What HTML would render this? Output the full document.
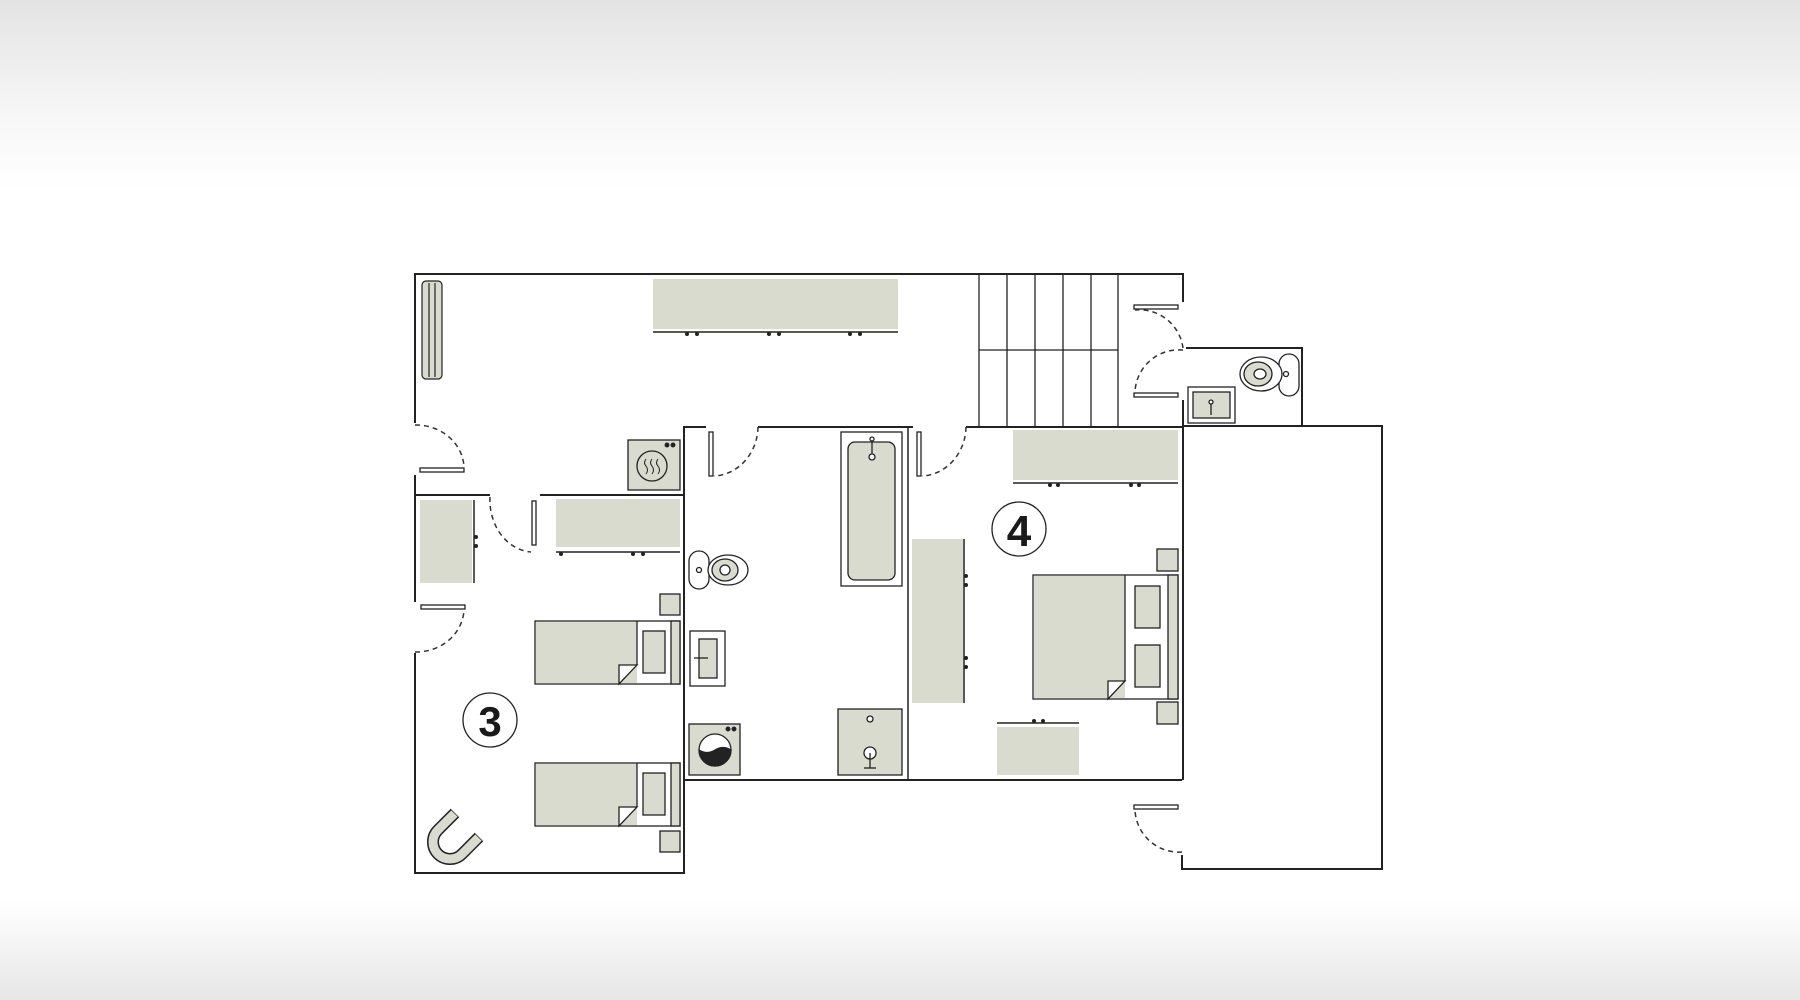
<!DOCTYPE html>
<html><head><meta charset="utf-8"><style>
html,body{margin:0;padding:0;width:1800px;height:1000px;overflow:hidden;background:#fff}
.bg{position:absolute;left:0;top:0;width:1800px;height:1000px;background:linear-gradient(to bottom,#e3e3e3 0px,#f6f6f6 110px,#fff 190px,#fff 900px,#f3f3f3 950px,#e6e6e6 1000px)}
svg{position:absolute;left:0;top:0}
text{font-family:"Liberation Sans",sans-serif;font-weight:bold}
</style></head><body><div class="bg"></div>
<svg width="1800" height="1000" viewBox="0 0 1800 1000">
<g fill="none" stroke="#222" stroke-width="2">
<polyline points="415,423 415,274 1183,274 1183,302"/>
<polyline points="415,475 415,602"/>
<polyline points="415,653 415,873 684,873 684,427 706,427"/>
<line x1="758" y1="427" x2="913" y2="427"/>
<line x1="966" y1="427" x2="1183" y2="427"/>
<polyline points="415,495 490,495"/>
<polyline points="540,495 684,495"/>
<line x1="684" y1="780" x2="1182" y2="780"/>
<line x1="908" y1="427" x2="908" y2="780" stroke-width="1.5"/>
<polyline points="1183,400 1183,780"/>
<polyline points="1186,348 1302,348 1302,426"/>
<polyline points="1183,426 1382,426 1382,869 1182,869 1182,855"/>
<g stroke-width="1.3">
<line x1="979" y1="274" x2="979" y2="426"/><line x1="1007" y1="274" x2="1007" y2="426"/>
<line x1="1035" y1="274" x2="1035" y2="426"/><line x1="1063" y1="274" x2="1063" y2="426"/>
<line x1="1091" y1="274" x2="1091" y2="426"/><line x1="1118" y1="274" x2="1118" y2="426"/>
<line x1="979" y1="350" x2="1118" y2="350"/>
</g>
</g>
<g fill="#fff" stroke="#222" stroke-width="1.3">
<rect x="420" y="468" width="44" height="4"/>
<rect x="421" y="605" width="44" height="4"/>
<rect x="532" y="501" width="4" height="44"/>
<rect x="709" y="432" width="4" height="44"/>
<rect x="917" y="432" width="4" height="44"/>
<rect x="1134" y="305" width="44" height="4"/>
<rect x="1134" y="393" width="44" height="4"/>
<rect x="1134" y="805" width="44" height="4"/>
</g>
<g fill="none" stroke="#333" stroke-width="1.5" stroke-dasharray="5,4">
<path d="M415,425 A48,44 0 0 1 464,467"/>
<path d="M415,652 A48,44 0 0 0 464,610"/>
<path d="M490,497 A44,52 0 0 0 531,552"/>
<path d="M758,427 A46,50 0 0 1 714,476"/>
<path d="M966,427 A46,50 0 0 1 922,476"/>
<path d="M1183,348 A44,44 0 0 0 1135,310"/>
<path d="M1183,350 A44,44 0 0 0 1135,392"/>
<path d="M1182,852 A44,44 0 0 1 1135,810"/>
</g>
<g fill="#d9dbcf" stroke="none">
<rect x="653" y="279" width="245" height="50"/>
<rect x="420" y="500" width="52" height="83"/>
<rect x="556" y="499" width="124" height="48"/>
<rect x="1013" y="430" width="165" height="50"/>
<rect x="912" y="539" width="51" height="164"/>
<rect x="997" y="727" width="82" height="48"/>
</g>
<g stroke="#222" stroke-width="1.5">
<line x1="653" y1="332" x2="898" y2="332"/>
<line x1="556" y1="552" x2="680" y2="552"/>
<line x1="474" y1="500" x2="474" y2="583"/>
<line x1="1013" y1="483" x2="1178" y2="483"/>
<line x1="964" y1="539" x2="964" y2="703"/>
<line x1="997" y1="723" x2="1079" y2="723"/>
</g>
<g fill="#222">
<circle cx="687" cy="334" r="2"/><circle cx="697" cy="334" r="2"/><circle cx="769" cy="334" r="2"/><circle cx="779" cy="334" r="2"/><circle cx="850" cy="334" r="2"/><circle cx="860" cy="334" r="2"/>
<circle cx="561" cy="554" r="2"/><circle cx="633" cy="554" r="2"/><circle cx="643" cy="554" r="2"/>
<circle cx="476" cy="537" r="2"/><circle cx="476" cy="546" r="2"/>
<circle cx="1050" cy="485" r="2"/><circle cx="1058" cy="485" r="2"/><circle cx="1131" cy="485" r="2"/><circle cx="1139" cy="485" r="2"/>
<circle cx="966" cy="576" r="2"/><circle cx="966" cy="585" r="2"/><circle cx="966" cy="658" r="2"/><circle cx="966" cy="667" r="2"/>
<circle cx="1034" cy="721" r="2"/><circle cx="1043" cy="721" r="2"/>
</g>
<g fill="#d9dbcf" stroke="#222" stroke-width="1.2">
<rect x="422" y="281" width="20" height="98" rx="4"/>
<line x1="429" y1="283" x2="429" y2="377"/><line x1="435" y1="283" x2="435" y2="377"/>
</g>
<g stroke="#222" stroke-width="1.3">
<rect x="628" y="440" width="52" height="50" fill="#d9dbcf"/>
<circle cx="652" cy="466" r="15" fill="none"/>
<path d="M646,459 q-3,4 0,7 q3,4 0,8 M652,459 q-3,4 0,7 q3,4 0,8 M658,459 q-3,4 0,7 q3,4 0,8" fill="none" stroke-width="1"/>
<circle cx="667" cy="445" r="1.8" fill="#222"/><circle cx="673" cy="445" r="1.8" fill="#222"/>
</g>
<g stroke="#222" stroke-width="1.3">
<rect x="660" y="594" width="20" height="21" fill="#d9dbcf"/>
<rect x="535" y="621" width="145" height="63" fill="#fff"/>
<rect x="536" y="622" width="101" height="61" fill="#d9dbcf" stroke="none"/>
<line x1="637" y1="621" x2="637" y2="665"/>
<path d="M619,684 L619,665 L637,665 Z" fill="#fff"/>
<rect x="643" y="631" width="22" height="42" fill="#d9dbcf"/>
<rect x="671" y="621" width="9" height="63" fill="#d9dbcf"/>
<rect x="535" y="763" width="145" height="63" fill="#fff"/>
<rect x="536" y="764" width="101" height="61" fill="#d9dbcf" stroke="none"/>
<line x1="637" y1="763" x2="637" y2="807"/>
<path d="M619,826 L619,807 L637,807 Z" fill="#fff"/>
<rect x="643" y="773" width="22" height="42" fill="#d9dbcf"/>
<rect x="671" y="763" width="9" height="63" fill="#d9dbcf"/>
<rect x="660" y="831" width="20" height="21" fill="#d9dbcf"/>
</g>
<g transform="translate(450,842) rotate(45)">
<path d="M-17,-24 L-17,0 A17,17 0 0 0 17,0 L17,-24" fill="none" stroke="#222" stroke-width="12"/>
<path d="M-17,-23.3 L-17,0 A17,17 0 0 0 17,0 L17,-23.3" fill="none" stroke="#d9dbcf" stroke-width="9"/>
</g>
<circle cx="490" cy="720" r="27" fill="#fff" stroke="#222" stroke-width="1.3"/>
<text x="490" y="736" font-size="42" text-anchor="middle" fill="#1a1a1a">3</text>
<g stroke="#222" stroke-width="1.3">
<rect x="689" y="551" width="20" height="38" rx="10" fill="#fff"/>
<ellipse cx="728" cy="570" rx="20" ry="15" fill="#fff"/>
<ellipse cx="725" cy="570" rx="13" ry="11" fill="#d9dbcf"/>
<circle cx="725" cy="570" r="5" fill="#fff"/>
<circle cx="699" cy="570" r="2.5" fill="#fff"/>
<rect x="690" y="631" width="35" height="55" fill="#fff"/>
<rect x="699" y="639" width="18" height="39" fill="#d9dbcf"/>
<line x1="694" y1="658" x2="708" y2="658"/>
<rect x="689" y="724" width="51" height="51" fill="#d9dbcf"/>
<circle cx="715" cy="750" r="16" fill="#fff"/>
<path d="M699,750 a16,16 0 0 0 32,0 q-8,-5 -16,0 q-8,5 -16,0Z" fill="#222"/>
<circle cx="728" cy="729" r="1.8" fill="#222"/><circle cx="734" cy="729" r="1.8" fill="#222"/>
<rect x="841" y="432" width="61" height="154" fill="#fff"/>
<rect x="848" y="442" width="47" height="138" rx="7" fill="#d9dbcf"/>
<circle cx="872" cy="439" r="2" fill="#fff"/><circle cx="872" cy="457" r="3" fill="#fff"/><line x1="872" y1="441" x2="872" y2="454"/>
<rect x="838" y="709" width="64" height="66" fill="#d9dbcf"/>
<circle cx="870" cy="719" r="3" fill="#fff"/>
<circle cx="870" cy="753" r="6" fill="#fff"/><line x1="870" y1="753" x2="870" y2="768"/><line x1="864" y1="768" x2="876" y2="768"/>
</g>
<g stroke="#222" stroke-width="1.3">
<rect x="1157" y="549" width="21" height="22" fill="#d9dbcf"/>
<rect x="1157" y="702" width="21" height="22" fill="#d9dbcf"/>
<rect x="1033" y="575" width="145" height="124" fill="#fff"/>
<rect x="1034" y="576" width="91" height="122" fill="#d9dbcf" stroke="none"/>
<line x1="1125" y1="575" x2="1125" y2="681"/>
<path d="M1108,699 L1108,681 L1125,681 Z" fill="#fff"/>
<rect x="1135" y="586" width="25" height="42" fill="#d9dbcf"/>
<rect x="1135" y="645" width="25" height="42" fill="#d9dbcf"/>
<rect x="1168" y="575" width="10" height="124" fill="#d9dbcf"/>
</g>
<circle cx="1019" cy="529" r="27" fill="#fff" stroke="#222" stroke-width="1.3"/>
<text x="1019" y="546" font-size="44" text-anchor="middle" fill="#1a1a1a">4</text>
<g stroke="#222" stroke-width="1.3">
<rect x="1279" y="354" width="20" height="42" rx="10" fill="#fff"/>
<ellipse cx="1261" cy="374" rx="21" ry="17" fill="#fff"/>
<ellipse cx="1258" cy="374" rx="14" ry="12" fill="#d9dbcf"/>
<ellipse cx="1260" cy="374" rx="6" ry="5" fill="#fff"/>
<circle cx="1286" cy="374" r="2.5" fill="#fff"/>
<rect x="1188" y="387" width="47" height="36" fill="#fff"/>
<rect x="1193" y="392" width="37" height="26" fill="#d9dbcf"/>
<circle cx="1211" cy="402" r="2" fill="#fff"/><line x1="1211" y1="404" x2="1211" y2="415"/>
</g>
</svg>
</body></html>
